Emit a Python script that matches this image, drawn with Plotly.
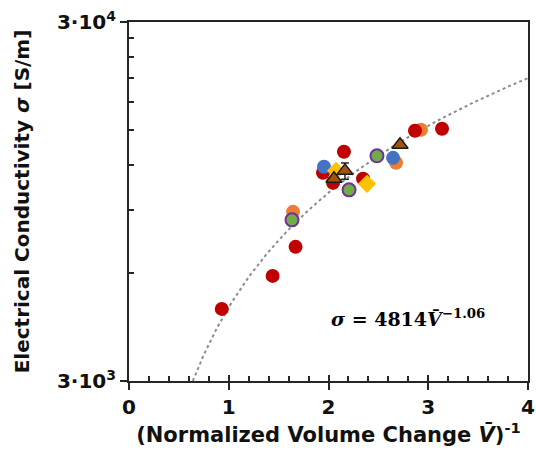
import numpy as np
import plotly.graph_objects as go

# ---- data ----
red_x = [0.93, 1.44, 1.67, 1.945, 2.045, 2.155, 2.346, 2.867, 3.138]
red_y = [4764, 5887, 7092, 11403, 10695, 13047, 10974, 14931, 15124]

orange_x = [1.644, 2.677, 2.927]
orange_y = [8877, 12159, 15027]

blue_x = [1.955, 2.647]
blue_y = [11853, 12552]

green_x = [1.634, 2.206, 2.486]
green_y = [8433, 10224, 12717]

yellow_x = [2.075, 2.386]
yellow_y = [11547, 10626]

tri_x = [2.055, 2.165, 2.717]
tri_y = [10974, 11547, 13647]
tri_err = [0, 600, 0]

# fit shown on the chart: sigma = 4814 * (V^-1)^1.06
fit_a = 4814
fit_b = 1.06

x_ticks = [0, 1, 2, 3, 4]
x_minor = [0.2, 0.4, 0.6, 0.8, 1.2, 1.4, 1.6, 1.8, 2.2, 2.4, 2.6, 2.8, 3.2, 3.4, 3.6, 3.8]
y_ticks = [3000, 30000]
y_ticktext = ["3·10<sup>3</sup>", "3·10<sup>4</sup>"]
y_minor = [6000, 9000, 12000, 15000, 18000, 21000, 24000, 27000]

x_start = (3000 / fit_a) ** (1 / fit_b)
fx = np.linspace(x_start, 4, 200)
fy = fit_a * fx ** fit_b

AX = "#262626"
FONT = "DejaVu Sans"

fig = go.Figure()
fig.add_trace(go.Scatter(x=fx, y=fy, mode="lines",
                         line=dict(color="#8c8c8c", width=2, dash="dot"),
                         hoverinfo="skip", showlegend=False))

def circ(x, y, fill, line=None, lw=0, size=14):
    fig.add_trace(go.Scatter(x=x, y=y, mode="markers", showlegend=False,
                             marker=dict(symbol="circle", size=size, color=fill,
                                         line=dict(color=line or fill, width=lw))))

circ(orange_x, orange_y, "#ED7D31")
circ(red_x, red_y, "#C00000")
circ(blue_x, blue_y, "#4472C4")
circ(green_x, green_y, "#70AD47", line="#7030A0", lw=2, size=13)
fig.add_trace(go.Scatter(x=yellow_x, y=yellow_y, mode="markers", showlegend=False,
                         marker=dict(symbol="diamond", size=14, color="#FFC000",
                                     line=dict(width=0))))
fig.add_trace(go.Scatter(x=tri_x, y=tri_y, mode="markers", showlegend=False,
                         error_y=dict(type="data", array=tri_err, color="#262626",
                                      thickness=1.5, width=4),
                         marker=dict(symbol="triangle-up", size=14, color="#A3520F",
                                     line=dict(color="#1a1a1a", width=1.5))))
# invisible trace that keeps the overlay axis (cross ticks) alive
fig.add_trace(go.Scatter(x=[0], y=[3000], xaxis="x2", mode="markers",
                         marker=dict(size=1, opacity=0), hoverinfo="skip",
                         showlegend=False))

fig.add_annotation(x=0.70, y=0.175, xref="paper", yref="paper", showarrow=False,
                   xanchor="center", yanchor="middle",
                   text="<b><i>σ</i> = 4814<i>V̄</i><sup>−1.06</sup></b>",
                   font=dict(family="DejaVu Serif", size=19, color="#000"))

fig.update_layout(
    width=536, height=457,
    margin=dict(l=129, r=8, t=22, b=76, autoexpand=False),
    plot_bgcolor="white", paper_bgcolor="white",
    xaxis=dict(range=[0, 4], tickvals=x_ticks, ticks="outside", ticklen=7,
               tickwidth=1.5, tickcolor=AX, showline=True, linecolor=AX, linewidth=2,
               mirror=True, showgrid=False, zeroline=False, automargin=False,
               ticklabeloverflow="allow",
               tickfont=dict(family=FONT, size=20, color="#111", weight="bold"),
               minor=dict(tickvals=x_minor, ticks="inside", ticklen=5, tickwidth=1.5,
                          tickcolor=AX, showgrid=False),
               title=dict(text="(Normalized Volume Change <i>V̄</i>)<sup>-1</sup>",
                          font=dict(family=FONT, size=21, color="#111", weight="bold"),
                          standoff=1)),
    yaxis=dict(type="log", range=[np.log10(3000) - 1e-6, np.log10(30000) + 1e-6],
               tickvals=y_ticks, ticktext=y_ticktext, ticks="outside", ticklen=7,
               tickwidth=1.5, tickcolor=AX, showline=True, linecolor=AX, linewidth=2,
               mirror=True, showgrid=False, zeroline=False, automargin=False,
               ticklabeloverflow="allow",
               tickfont=dict(family=FONT, size=20, color="#111", weight="bold"),
               minor=dict(tickvals=y_minor, ticks="inside", ticklen=5, tickwidth=1.5,
                          tickcolor=AX, showgrid=False),
               title=dict(text="Electrical Conductivity <i>σ</i> [S/m]",
                          font=dict(family=FONT, size=20, color="#111", weight="bold"),
                          standoff=22)),
    xaxis2=dict(overlaying="x", matches="x", tickvals=x_ticks,
                ticks="inside", ticklen=6, tickwidth=1.5, tickcolor=AX,
                showticklabels=False, showline=False, showgrid=False, zeroline=False,
                side="bottom", automargin=False),
)
# remove the browser's default 8px body margin so the 536x457 figure fills the window
fig.write_html("out.html", config={"displayModeBar": False},
               post_script="document.body.style.margin='0px';")
